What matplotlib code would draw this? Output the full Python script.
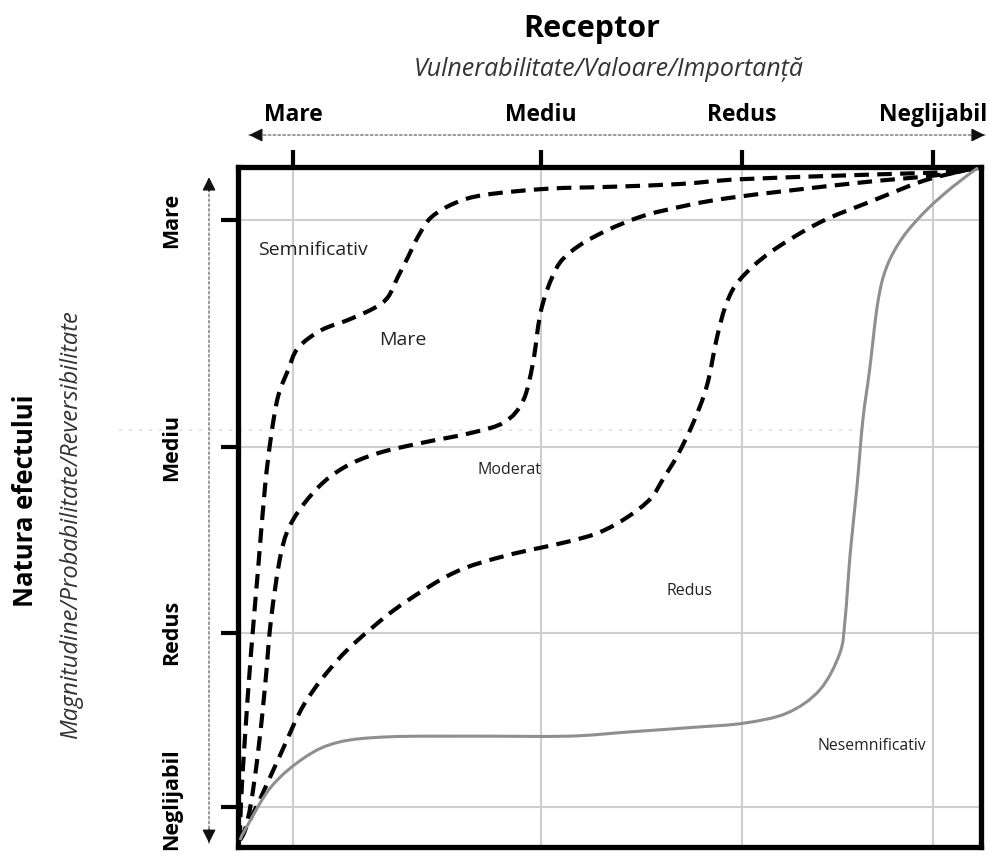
import matplotlib
matplotlib.use("Agg")
import matplotlib.pyplot as plt
import matplotlib.transforms as mtransforms
import numpy as np
from matplotlib.path import Path
from matplotlib.patches import PathPatch

# ── Axis categories (positions on a 0-100 scale inside the frame) ─────────
RECEPTOR_LEVELS = ["Mare", "Mediu", "Redus", "Neglijabil"]
RECEPTOR_POS = [7.4, 40.8, 67.8, 93.5]
EFFECT_LEVELS = ["Mare", "Mediu", "Redus", "Neglijabil"]
EFFECT_POS = [92.2, 58.8, 31.5, 5.9]

# ── Boundary curves between significance classes ────────────────────────
C1_X = [0.27, 0.40, 0.94, 1.75, 2.69, 3.63, 4.44, 5.38, 6.73, 8.08, 11.2, 14.8, 18.4,
        20.2, 21.5, 22.9, 24.2, 26.0, 29.2, 33.2, 41.6, 50.5, 59.5, 67.6, 82.8, 96.2, 99.6]
C1_Y = [1.03, 6.47, 16.2, 28.5, 40.7, 52.9, 60.3, 66.2, 70.1, 73.4, 76.0, 77.5, 79.3,
        80.9, 83.8, 86.8, 89.7, 92.6, 94.7, 95.9, 96.8, 97.1, 97.5, 98.2, 98.8, 99.3, 99.9]

C2_X = [0.27, 0.94, 1.75, 2.69, 3.63, 4.44, 5.79, 7.40, 10.8, 14.4, 18.8, 24.6, 31.4,
        35.9, 38.4, 39.7, 40.6, 41.6, 43.3, 46.0, 49.7, 53.7, 57.7, 65.8, 82.8, 94.1, 99.6]
C2_Y = [1.03, 2.5, 6.47, 13.8, 23.5, 33.4, 43.2, 48.1, 52.9, 55.9, 57.9, 59.4, 60.9,
        62.5, 65.7, 71.2, 77.9, 81.9, 85.9, 88.5, 90.7, 92.5, 93.7, 95.4, 97.6, 98.8, 99.9]

C3_X = [0.27, 0.94, 3.10, 5.79, 9.02, 13.5, 17.9, 22.5, 29.2, 35.9, 44.4, 48.7, 52.4,
        55.5, 57.2, 59.1, 61.2, 63.1, 64.5, 65.8, 67.6, 71.7, 78.4, 85.1, 91.8, 96.2, 99.6]
C3_Y = [1.03, 2.5, 7.35, 13.8, 21.2, 27.6, 32.1, 36.0, 40.4, 42.8, 44.9, 46.3, 48.5,
        51.2, 54.1, 57.5, 62.2, 67.8, 75.1, 80.1, 83.5, 87.5, 91.9, 94.9, 97.8, 99.1, 99.9]

C4_X = [0.27, 0.94, 4.44, 9.02, 13.5, 20.2, 31.4, 44.4, 52.4, 61.3, 68.0, 73.9, 78.3,
        81.0, 81.7, 82.4, 83.3, 84.1, 85.0, 86.1, 87.3, 89.5, 92.7, 96.2, 99.6]
C4_Y = [1.03, 2.5, 8.82, 13.2, 15.4, 16.2, 16.3, 16.3, 16.9, 17.6, 18.2, 19.7, 23.1,
        28.5, 33.4, 43.2, 52.9, 62.8, 70.1, 80.0, 85.3, 89.7, 93.7, 97.1, 99.9]

# ── Region labels ────────────────────────────────────────────────────────
REGION_NAMES = ["Semnificativ", "Mare", "Moderat", "Redus", "Nesemnificativ"]
REGION_X = [10.1, 22.2, 36.5, 60.8, 85.3]
REGION_Y = [87.8, 74.6, 55.4, 37.6, 14.9]
REGION_SIZE = [14, 14, 11.5, 11.5, 11.3]

FONT = "Open Sans"
W, H = 994, 856


def smooth_path(xs, ys):
    """Catmull-Rom through the read points, drawn as cubic Bezier segments."""
    pts = np.column_stack([xs, ys])
    n = len(pts)
    verts = [pts[0]]
    codes = [Path.MOVETO]
    for i in range(n - 1):
        p0 = pts[max(i - 1, 0)]
        p1 = pts[i]
        p2 = pts[i + 1]
        p3 = pts[min(i + 2, n - 1)]
        verts += [p1 + (p2 - p0) / 6, p2 - (p3 - p1) / 6, p2]
        codes += [Path.CURVE4] * 3
    return Path(verts, codes)


fig = plt.figure(figsize=(W / 100, H / 100), dpi=100)
fig.patch.set_facecolor("white")
ax = fig.add_axes([238 / W, (H - 847) / H, 743 / W, 680 / H])
ax.set_xlim(0, 100)
ax.set_ylim(0, 100)

# grid + frame
ax.set_xticks(RECEPTOR_POS)
ax.set_yticks(EFFECT_POS)
ax.grid(color="#cfcfcf", linewidth=1.5, zorder=0)
ax.set_axisbelow(True)
for sp in ax.spines.values():
    sp.set_linewidth(3.8)
    sp.set_color("black")

ax.xaxis.tick_top()
ax.set_xticklabels(RECEPTOR_LEVELS, fontsize=16.5, fontweight="bold", family=FONT)
ax.set_yticklabels([])
ax.tick_params(axis="x", direction="out", length=12, width=3, pad=17)
ax.tick_params(axis="y", direction="out", length=12, width=3)

# left category labels (rotated); the lowest one nudged up so it stays inside
ylab_tr = mtransforms.blended_transform_factory(ax.transAxes, ax.transData)
for name, y in zip(EFFECT_LEVELS, EFFECT_POS):
    nudge = 1.2 if name == "Neglijabil" else 0
    ax.text(-0.089, y + nudge, name, transform=ylab_tr, rotation=90, fontsize=15.5,
            fontweight="bold", family=FONT, ha="center", va="center", clip_on=False)

# faint dotted artefact line
ax.plot([-16, 85], [61.3, 61.3], color="#dddddd", lw=1.2, ls=(0, (2, 4)),
        clip_on=False, zorder=1)

# curves
dash = (0, (3.5, 2.0))
for xs, ys in [(C1_X, C1_Y), (C2_X, C2_Y), (C3_X, C3_Y)]:
    ax.add_patch(PathPatch(smooth_path(xs, ys), fill=False, edgecolor="black",
                           lw=3, ls=dash, zorder=3, capstyle="butt"))
ax.add_patch(PathPatch(smooth_path(C4_X, C4_Y), fill=False, edgecolor="#8f8f8f",
                       lw=2.2, zorder=3))

for name, x, y, s in zip(REGION_NAMES, REGION_X, REGION_Y, REGION_SIZE):
    ax.text(x, y, name, fontsize=s, family=FONT, ha="center", va="center",
            color="#222222", zorder=4)

# double arrows along both axes: dotted grey shaft, solid black heads
shaft = dict(arrowstyle="-", color="#999999", lw=1.4, ls=(0, (1, 1.5)),
             shrinkA=0, shrinkB=0)
head = dict(arrowstyle="-|>", color="#111111", lw=1, mutation_scale=20,
            shrinkA=0, shrinkB=0)
top_y, left_x = 1.047, -0.039
ax.annotate("", xy=(1.005, top_y), xytext=(0.015, top_y), xycoords="axes fraction",
            arrowprops=shaft, annotation_clip=False)
ax.annotate("", xy=(1.005, top_y), xytext=(0.99, top_y), xycoords="axes fraction",
            arrowprops=head, annotation_clip=False)
ax.annotate("", xy=(0.015, top_y), xytext=(0.03, top_y), xycoords="axes fraction",
            arrowprops=head, annotation_clip=False)
ax.annotate("", xy=(left_x, 0.985), xytext=(left_x, 0.006), xycoords="axes fraction",
            arrowprops=shaft, annotation_clip=False)
ax.annotate("", xy=(left_x, 0.985), xytext=(left_x, 0.965), xycoords="axes fraction",
            arrowprops=head, annotation_clip=False)
ax.annotate("", xy=(left_x, 0.006), xytext=(left_x, 0.026), xycoords="axes fraction",
            arrowprops=head, annotation_clip=False)

# titles
fig.text(592 / W, 1 - 29 / H, "Receptor", fontsize=22, fontweight="bold",
         family=FONT, ha="center", va="center")
fig.text(609 / W, 1 - 70 / H, "Vulnerabilitate/Valoare/Importanță", fontsize=18,
         style="italic", family=FONT, ha="center", va="center", color="#333333")
fig.text(26 / W, 1 - 501 / H, "Natura efectului", fontsize=18.5, fontweight="bold",
         family=FONT, ha="center", va="center", rotation=90)
fig.text(71 / W, 1 - 525 / H, "Magnitudine/Probabilitate/Reversibilitate", fontsize=17,
         style="italic", family=FONT, ha="center", va="center", rotation=90,
         color="#333333")

fig.savefig("out.png", dpi=100)
